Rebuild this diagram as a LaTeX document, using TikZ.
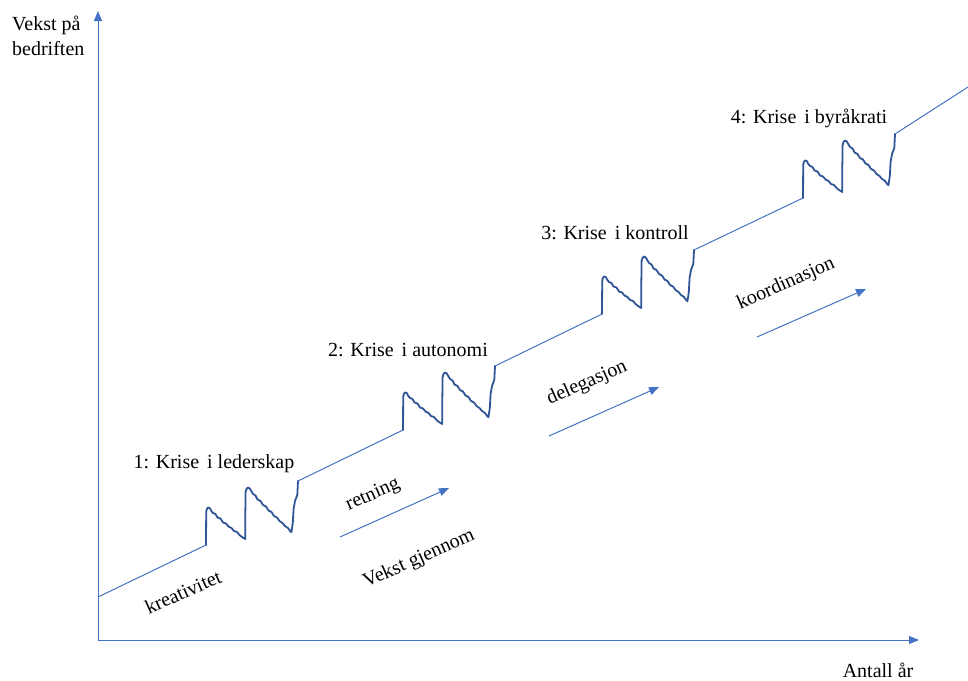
\documentclass[tikz,border=0pt]{standalone}
\usepackage{fontspec}
\setmainfont{Liberation Serif}
\usetikzlibrary{arrows.meta}
\definecolor{axisblue}{HTML}{4472C4}
\definecolor{crisisblue}{HTML}{2F5597}
\tikzset{
  thinline/.style={draw=axisblue, line width=1pt},
  axisline/.style={thinline, -{Triangle[length=10pt,width=8pt]}},
  trendarrow/.style={thinline, -{Triangle[length=10pt,width=8pt]}},
  crisisline/.style={draw=crisisblue, line width=1.8pt, line join=round, line cap=round},
  lbl/.style={font=\fontsize{20}{24}\selectfont, inner sep=0pt},
  tilted/.style={lbl, rotate=24},
  crisis/.pic={
    \draw[crisisline] (0,0) -- (0.2,-33) -- (0.8,-36) -- (2.2,-37.5) -- (3.8,-37) -- (5,-34.5)
      -- (7,-32) -- (9.5,-31) -- (11.5,-27.5) -- (14.5,-26.5) -- (17,-22.5) -- (20,-21.5)
      -- (22.5,-18.5) -- (25.5,-17) -- (28,-14) -- (31,-13) -- (33.5,-10) -- (36,-8)
      -- (38.5,-6.5) -- (39.2,-6) -- (39.3,-30) -- (39.6,-53) -- (40.5,-56) -- (42,-57.5)
      -- (43.8,-56.5) -- (45.5,-53.5) -- (47,-51) -- (49.5,-49.5) -- (51.5,-45.5) -- (54.5,-44)
      -- (57,-40) -- (60,-38.5) -- (62.5,-34.5) -- (65.5,-33) -- (68,-29) -- (71,-27.5)
      -- (73.5,-24) -- (76.5,-22) -- (79,-19) -- (82,-17) -- (84.5,-13.5) -- (85.5,-13)
      -- (86.8,-22) -- (87.6,-36) -- (89,-44) -- (91.3,-50) -- (92,-64);
  }
}
\begin{document}
\begin{tikzpicture}[x=1pt,y=-1pt]
  \useasboundingbox (0,0) rectangle (968,680);

  % axes
  \coordinate (origin) at (98,640);
  \coordinate (ytop) at (98,11);
  \coordinate (xend) at (919,640);
  \draw[axisline] (origin) -- (ytop);
  \draw[axisline] (origin) -- (xend);

  \node[lbl, anchor=north west, align=left] (ylabel) at (12,16) {Vekst på\\[1pt]bedriften};
  \node[lbl, anchor=base] (xlabel) at (878,677) {Antall år};

  % growth path: straight runs with four crises in between
  \coordinate (g0) at (98,597);
  \coordinate (s1) at (206,545);
  \coordinate (e1) at (298,481);
  \coordinate (s2) at (403,430);
  \coordinate (e2) at (495,366);
  \coordinate (s3) at (602,314);
  \coordinate (e3) at (694,250);
  \coordinate (s4) at (803,198);
  \coordinate (e4) at (895,134);
  \coordinate (g5) at (968,87);

  \draw[thinline] (g0) -- (s1);
  \draw[thinline] (e1) -- (s2);
  \draw[thinline] (e2) -- (s3);
  \draw[thinline] (e3) -- (s4);
  \draw[thinline] (e4) -- (g5);

  \pic at (s1) {crisis};
  \pic at (s2) {crisis};
  \pic at (s3) {crisis};
  \pic at (s4) {crisis};

  % crisis labels
  \node[lbl] (k1) at (214,464) {1: Krise\hspace{0.15em} i lederskap};
  \node[lbl] (k2) at (408,350) {2: Krise\hspace{0.15em} i autonomi};
  \node[lbl] (k3) at (615,233) {3: Krise\hspace{0.15em} i kontroll};
  \node[lbl] (k4) at (809,118) {4: Krise\hspace{0.15em} i byråkrati};

  % growth phases
  \node[tilted] (p1) at (183,592) {kreativitet};
  \node[tilted] (p2) at (373,495) {retning};
  \node[tilted] (p0) at (419,559) {Vekst gjennom};
  \node[tilted] (p3) at (587,383) {delegasjon};
  \node[tilted] (p4) at (786,284) {koordinasjon};

  \coordinate (a1s) at (340,537);
  \coordinate (a1e) at (449,488);
  \coordinate (a2s) at (549,436);
  \coordinate (a2e) at (659,387);
  \coordinate (a3s) at (757,337);
  \coordinate (a3e) at (866,289);
  \draw[trendarrow] (a1s) -- (a1e);
  \draw[trendarrow] (a2s) -- (a2e);
  \draw[trendarrow] (a3s) -- (a3e);
\end{tikzpicture}
\end{document}
